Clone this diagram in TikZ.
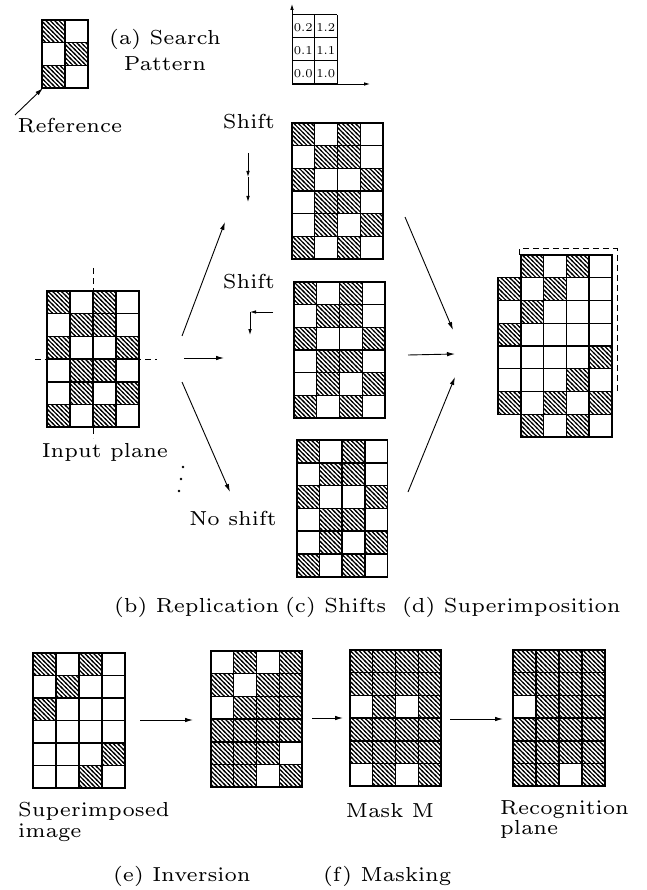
\documentclass[tikz,border=0pt]{standalone}
\usetikzlibrary{arrows.meta,patterns}

% wide roman for all labels
\font\figfont=cmr6 at 20.3pt
\font\figfontsmall=cmr6 at 12pt

% dense back-slanted hatching, axis-aligned tile so it repeats without seams
\pgfdeclarepatternformonly{cellhatch}{\pgfqpoint{-1pt}{-1pt}}{\pgfqpoint{5.4pt}{5.4pt}}{\pgfqpoint{4.4pt}{4.4pt}}{%
  \pgfsetlinewidth{1.15pt}%
  \pgfpathmoveto{\pgfqpoint{-1pt}{5.4pt}}%
  \pgfpathlineto{\pgfqpoint{5.4pt}{-1pt}}%
  \pgfusepath{stroke}%
}

\tikzset{
  hatch/.style={pattern=cellhatch},
  cellline/.style={line width=1.45pt, line cap=rect},
  conn/.style={line width=0.9pt, -{Latex[length=8pt,width=4.5pt]}},
  tinyconn/.style={line width=0.8pt, -{Latex[length=6pt,width=3.6pt]}},
  guide/.style={line width=1pt, dash pattern=on 6pt off 4pt},
  lbl/.style={font={\figfont\baselineskip=26pt}, inner sep=0pt},
  numlbl/.style={font=\figfontsmall, inner sep=0pt},
}

% \patgrid{x0}{y0}{cols}{rows}{cell w}{cell h}{hatched cells col/row}
% hatched cells are filled as one path so neighbouring cells join cleanly
\newcommand\patgrid[7]{%
  \fill[hatch] \foreach \cc/\rr in {#7}{({#1+(\cc-1)*#5},{#2+(\rr-1)*#6}) rectangle ++(#5,#6)};
  \foreach \ii in {0,...,#3}{\draw[cellline] ({#1+\ii*#5},#2) -- ++(0,{#4*#6});}
  \foreach \jj in {0,...,#4}{\draw[cellline] (#1,{#2+\jj*#6}) -- ++({#3*#5},0);}
}
% plain ruled grid without hatching
\newcommand\plaingrid[6]{%
  \foreach \ii in {0,...,#3}{\draw[line width=1pt] ({#1+\ii*#5},#2) -- ++(0,{#4*#6});}
  \foreach \jj in {0,...,#4}{\draw[line width=1pt] (#1,{#2+\jj*#6}) -- ++({#3*#5},0);}
}

\begin{document}
\begin{tikzpicture}[x=1pt,y=-1pt]
\useasboundingbox (0,0) rectangle (646,890);
\fill[white] (0,0) rectangle (646,890);

% ---------- (a) search pattern ----------
\patgrid{42}{20}{2}{3}{23}{22.7}{1/1,2/2,1/3}
\node[lbl, anchor=base, align=center] (search) at (165,71) {(a) Search\\Pattern};
\node[lbl, anchor=base] (reference) at (70,133) {Reference};
\coordinate (ref-tail) at (15,115);
\coordinate (ref-corner) at (43,88);
\draw[conn] (ref-tail) -- (ref-corner);

% ---------- cell numbering ----------
\plaingrid{292}{15}{2}{3}{22.5}{23}
\foreach \xx/\col in {0/0,1/1}{
  \foreach \yy/\row in {2/0,1/1,0/2}{
    \node[numlbl] (num-\xx-\yy) at ({292+11.25+\col*22.5},{15+11.5+\row*23+1}) {\xx.\yy};
  }
}
\coordinate (ax-o) at (292,84);
\coordinate (ax-y) at (292,4);
\coordinate (ax-x) at (370,84);
\draw[tinyconn] (ax-o) -- (ax-y);
\draw[tinyconn] (ax-o) -- (ax-x);

% ---------- (b) input plane ----------
\patgrid{47}{291}{4}{6}{23}{22.7}{1/1,3/1,2/2,3/2,1/3,4/3,2/4,3/4,2/5,4/5,1/6,3/6}
\coordinate (vd-top) at (93,268);
\coordinate (vd-bot) at (93,438);
\coordinate (hd-left) at (35,359.1);
\coordinate (hd-right) at (157,359.1);
\draw[guide] (vd-top) -- (vd-bot);
\draw[guide] (hd-left) -- (hd-right);
\node[lbl, anchor=base] (input) at (105,457) {Input plane};
\fill (183,467) circle (1.3) (181,479) circle (1.3) (179,491) circle (1.3);

% ---------- (c) shifted copies ----------
\patgrid{292}{123}{4}{6}{22.75}{22.67}{1/1,3/1,2/2,3/2,1/3,4/3,2/4,3/4,2/5,4/5,1/6,3/6}
\patgrid{294}{282}{4}{6}{22.75}{22.67}{1/1,3/1,2/2,3/2,1/3,4/3,2/4,3/4,2/5,4/5,1/6,3/6}
\patgrid{297}{440}{4}{6}{22.6}{22.8}{1/1,3/1,2/2,3/2,1/3,4/3,2/4,3/4,2/5,4/5,1/6,3/6}

\node[lbl, anchor=base] (shift1) at (249,129) {Shift};
\node[lbl, anchor=base] (shift2) at (249,288) {Shift};
\node[lbl, anchor=base] (noshift) at (233,525) {No shift};

\coordinate (down-a) at (248,153);
\coordinate (down-b) at (248,177);
\coordinate (down-c) at (248,202);
\draw[tinyconn] (down-a) -- (down-b);
\draw[tinyconn] (down-b) -- (down-c);

\coordinate (left-a) at (273,312);
\coordinate (left-b) at (250,312);
\coordinate (left-c) at (250,335);
\draw[tinyconn] (left-a) -- (left-b);
\draw[tinyconn] (left-b) -- (left-c);

% replication arrows
\coordinate (in-up) at (182,336);
\coordinate (in-mid) at (184,358);
\coordinate (in-dn) at (182,382);
\coordinate (sh1-in) at (225,222);
\coordinate (sh2-in) at (224,358);
\coordinate (sh3-in) at (230,492);
\draw[conn] (in-up) -- (sh1-in);
\draw[conn] (in-mid) -- (sh2-in);
\draw[conn] (in-dn) -- (sh3-in);

% superimposition arrows
\coordinate (sh1-out) at (405,217);
\coordinate (sh2-out) at (408,355);
\coordinate (sh3-out) at (408,492);
\coordinate (sup-in1) at (453,330);
\coordinate (sup-in2) at (455,354);
\coordinate (sup-in3) at (455,377);
\draw[conn] (sh1-out) -- (sup-in1);
\draw[conn] (sh2-out) -- (sup-in2);
\draw[conn] (sh3-out) -- (sup-in3);

% ---------- (d) superimposition ----------
\begin{scope}
  \def\sx{498}\def\sy{255}\def\cw{22.8}\def\ch{22.75}
  \fill[hatch] \foreach \cc/\rr in {2/1,4/1,1/2,3/2,2/3,1/4,5/5,4/6,1/7,3/7,5/7,2/8,4/8}
    {({\sx+(\cc-1)*\cw},{\sy+(\rr-1)*\ch}) rectangle ++(\cw,\ch)};
  % horizontal rules
  \draw[cellline] ({\sx+\cw},\sy) -- ++({4*\cw},0);
  \foreach \jj in {1,...,7}{\draw[cellline] (\sx,{\sy+\jj*\ch}) -- ++({5*\cw},0);}
  \draw[cellline] ({\sx+\cw},{\sy+8*\ch}) -- ++({4*\cw},0);
  % vertical rules
  \draw[cellline] (\sx,{\sy+\ch}) -- ++(0,{6*\ch});
  \foreach \ii in {1,...,5}{\draw[cellline] ({\sx+\ii*\cw},\sy) -- ++(0,{8*\ch});}
\end{scope}
\coordinate (win-a) at (519,255);
\coordinate (win-b) at (519,249);
\coordinate (win-c) at (617,249);
\coordinate (win-d) at (617,391);
\coordinate (win-e) at (612,391);
\draw[guide] (win-a) -- (win-b) -- (win-c) -- (win-d) -- (win-e);

\node[lbl, anchor=base west] (cap-b) at (114,612) {(b) Replication};
\node[lbl, anchor=base west] (cap-c) at (285,612) {(c) Shifts};
\node[lbl, anchor=base west] (cap-d) at (402,612) {(d) Superimposition};

% ---------- (e) inversion, (f) masking ----------
\patgrid{33}{653}{4}{6}{23}{22.5}{1/1,3/1,2/2,1/3,4/5,3/6}
\patgrid{211}{651}{4}{6}{22.75}{22.7}{2/1,4/1,1/2,3/2,4/2,2/3,3/3,4/3,1/4,2/4,3/4,4/4,1/5,2/5,3/5,1/6,2/6,4/6}
\patgrid{350}{650}{4}{6}{22.75}{22.7}{1/1,2/1,3/1,4/1,1/2,2/2,3/2,4/2,2/3,4/3,1/4,2/4,3/4,4/4,1/5,2/5,3/5,4/5,2/6,4/6}
\patgrid{513}{650}{4}{6}{23}{22.7}{1/1,2/1,3/1,4/1,1/2,2/2,3/2,4/2,2/3,3/3,4/3,1/4,2/4,3/4,4/4,1/5,2/5,3/5,4/5,1/6,2/6,4/6}

\coordinate (e-from) at (140,720);
\coordinate (e-to) at (193,720);
\coordinate (m-from) at (312,718);
\coordinate (m-to) at (343,718);
\coordinate (r-from) at (450,719);
\coordinate (r-to) at (503,719);
\draw[conn] (e-from) -- (e-to);
\draw[conn] (m-from) -- (m-to);
\draw[conn] (r-from) -- (r-to);

\node[lbl, anchor=base west, align=left, font={\figfont\baselineskip=21pt}] (superimg) at (18,837) {Superimposed\\image};
\node[lbl, anchor=base] (mask) at (390,817) {Mask M};
\node[lbl, anchor=base west, align=left, font={\figfont\baselineskip=17pt}] (recog) at (500,834) {Recognition\\plane};

\node[lbl, anchor=base west] (cap-e) at (113,881) {(e) Inversion};
\node[lbl, anchor=base west] (cap-f) at (323,881) {(f) Masking};
\end{tikzpicture}
\end{document}
